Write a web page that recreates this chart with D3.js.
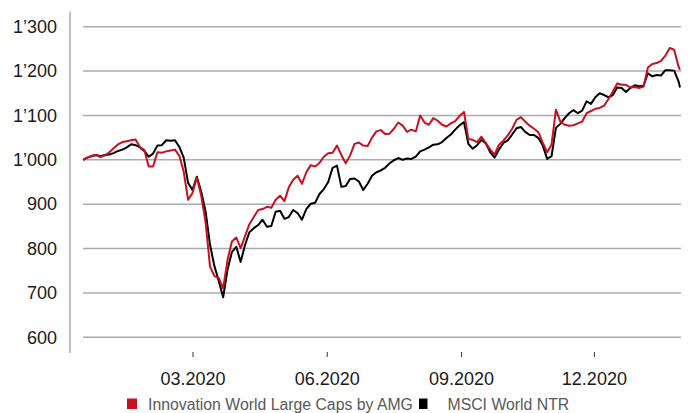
<!DOCTYPE html>
<html>
<head>
<meta charset="utf-8">
<script src="https://cdn.jsdelivr.net/npm/d3@7"></script>
<style>
  html, body { margin: 0; padding: 0; background: #fff; }
  svg { display: block; font-family: "Liberation Sans", Arial, sans-serif; }
</style>
</head>
<body>
<svg id="chart" width="688" height="413"></svg>
<script>
// Data: index levels every 3 days (start = 1000)
const dates = [
  "2019-12-17","2019-12-20","2019-12-23","2019-12-26","2019-12-29",
  "2020-01-01","2020-01-04","2020-01-07","2020-01-10","2020-01-13","2020-01-16","2020-01-19","2020-01-22","2020-01-25","2020-01-28","2020-01-31",
  "2020-02-03","2020-02-06","2020-02-09","2020-02-12","2020-02-15","2020-02-18","2020-02-21","2020-02-24","2020-02-27",
  "2020-03-01","2020-03-04","2020-03-07","2020-03-10","2020-03-13","2020-03-16","2020-03-19","2020-03-22","2020-03-25","2020-03-28","2020-03-31",
  "2020-04-03","2020-04-06","2020-04-09","2020-04-12","2020-04-15","2020-04-18","2020-04-21","2020-04-24","2020-04-27","2020-04-30",
  "2020-05-03","2020-05-06","2020-05-09","2020-05-12","2020-05-15","2020-05-18","2020-05-21","2020-05-24","2020-05-27","2020-05-30",
  "2020-06-02","2020-06-05","2020-06-08","2020-06-11","2020-06-14","2020-06-17","2020-06-20","2020-06-23","2020-06-26","2020-06-29",
  "2020-07-02","2020-07-05","2020-07-08","2020-07-11","2020-07-14","2020-07-17","2020-07-20","2020-07-23","2020-07-26","2020-07-29",
  "2020-08-01","2020-08-04","2020-08-07","2020-08-10","2020-08-13","2020-08-16","2020-08-19","2020-08-22","2020-08-25","2020-08-28","2020-08-31",
  "2020-09-03","2020-09-06","2020-09-09","2020-09-12","2020-09-15","2020-09-18","2020-09-21","2020-09-24","2020-09-27","2020-09-30",
  "2020-10-03","2020-10-06","2020-10-09","2020-10-12","2020-10-15","2020-10-18","2020-10-21","2020-10-24","2020-10-27","2020-10-30",
  "2020-11-02","2020-11-05","2020-11-08","2020-11-11","2020-11-14","2020-11-17","2020-11-20","2020-11-23","2020-11-26","2020-11-29",
  "2020-12-02","2020-12-05","2020-12-08","2020-12-11","2020-12-14","2020-12-17","2020-12-20","2020-12-23","2020-12-26","2020-12-29",
  "2021-01-01","2021-01-04","2021-01-07","2021-01-10","2021-01-13","2021-01-16","2021-01-19","2021-01-22","2021-01-25","2021-01-28","2021-01-29"
];

const innovation = [
  1000,1005,1008,1011,1006,1010,1017,1026,1035,1040,
  1042,1044,1046,1029,1022,985,985,1017,1016,1019,
  1021,1023,1009,973,910,925,960,919,859,760,
  738,734,710,774,816,825,801,828,855,871,
  887,889,894,892,910,919,907,938,955,964,
  946,972,988,985,993,1007,1015,1016,1032,1011,
  992,1010,1036,1039,1032,1031,1050,1064,1067,1058,
  1059,1070,1084,1077,1063,1068,1064,1100,1084,1079,
  1094,1088,1079,1075,1082,1087,1099,1108,1047,1045,
  1040,1052,1038,1023,1012,1034,1043,1055,1070,1090,
  1096,1086,1077,1070,1062,1038,1017,1034,1113,1086,
  1079,1077,1078,1082,1086,1105,1110,1115,1117,1122,
  1137,1154,1172,1169,1169,1163,1164,1162,1165,1208,
  1216,1218,1223,1235,1252,1248,1210,1203
];

const msciWorld = [
  1000,1005,1009,1011,1008,1011,1012,1015,1020,1023,
  1028,1035,1033,1028,1020,1007,1014,1032,1033,1044,
  1043,1044,1029,1005,948,932,962,928,883,809,
  761,727,690,752,792,804,770,808,837,846,
  853,865,849,851,883,885,867,871,887,880,
  865,889,901,903,923,934,950,982,987,939,
  941,957,958,951,932,946,964,972,976,982,
  992,999,1004,1000,1003,1002,1007,1019,1023,1028,
  1034,1035,1040,1049,1057,1068,1078,1085,1036,1025,
  1033,1045,1037,1017,1005,1023,1038,1044,1057,1071,
  1074,1063,1056,1056,1049,1032,1002,1008,1072,1081,
  1094,1105,1112,1105,1111,1132,1126,1141,1150,1146,
  1141,1146,1163,1162,1153,1162,1168,1166,1167,1195,
  1188,1191,1190,1202,1202,1201,1177,1163
];

const yTicks = [600, 700, 800, 900, 1000, 1100, 1200, 1300];
const xTicks = ["2020-03-01", "2020-06-01", "2020-09-01", "2020-12-01"];
const seriesNames = ["Innovation World Large Caps by AMG", "MSCI World NTR"];
const seriesColors = ["#c8101e", "#000000"];

const svg = d3.select("#chart");
const parse = d3.utcParse("%Y-%m-%d");
const days = dates.map(parse);

const x = d3.scaleUtc()
    .domain(d3.extent(days))
    .range([83, 680]);
const y = d3.scaleLinear()
    .domain([600, 1300])
    .range([337.3, 26.7]);

// thousands separator is a typographic apostrophe
const fmt = v => {
    const s = String(v);
    return s.length > 3 ? s.slice(0, -3) + "\u2019" + s.slice(-3) : s;
};

// gridlines
svg.append("g")
    .selectAll("line")
    .data(yTicks)
    .join("line")
        .attr("x1", 83)
        .attr("x2", 681)
        .attr("y1", d => y(d))
        .attr("y2", d => y(d))
        .attr("stroke", "#a7aab7")
        .attr("stroke-width", 1.4);

// y axis
const yAxis = svg.append("g")
    .attr("transform", "translate(70,0)")
    .call(d3.axisLeft(y).tickValues(yTicks).tickSize(0).tickPadding(13).tickFormat(fmt));
yAxis.select(".domain").remove();
yAxis.append("line")
    .attr("x1", 0).attr("x2", 0)
    .attr("y1", 11.5).attr("y2", 353)
    .attr("stroke", "#a7aab7")
    .attr("stroke-width", 1.5);
yAxis.selectAll("text")
    .attr("fill", "#1a1a1a")
    .style("font-size", "18px")
    .style("font-family", "'Liberation Sans', Arial, sans-serif");

// x axis
const xAxis = svg.append("g")
    .attr("transform", "translate(0,352)")
    .call(d3.axisBottom(x).tickValues(xTicks.map(parse)).tickSize(5).tickPadding(15).tickFormat(d3.utcFormat("%m.%Y")));
xAxis.select(".domain").remove();
xAxis.selectAll(".tick line").attr("stroke", "#333").attr("stroke-width", 1);
xAxis.selectAll("text")
    .attr("fill", "#1a1a1a")
    .style("font-size", "18px")
    .style("font-family", "'Liberation Sans', Arial, sans-serif");

// lines (MSCI below, Innovation on top)
const line = d3.line()
    .x((d, i) => x(days[i]))
    .y(d => y(d));

svg.append("path")
    .datum(msciWorld)
    .attr("fill", "none")
    .attr("stroke", seriesColors[1])
    .attr("stroke-width", 2)
    .attr("stroke-linejoin", "round")
    .attr("d", line);

svg.append("path")
    .datum(innovation)
    .attr("fill", "none")
    .attr("stroke", seriesColors[0])
    .attr("stroke-width", 2)
    .attr("stroke-linejoin", "round")
    .attr("d", line);

// legend
const legendX = [127, 419];
const legend = svg.append("g")
    .selectAll("g")
    .data(seriesNames)
    .join("g")
        .attr("transform", (d, i) => `translate(${legendX[i]},398.5)`);
legend.append("rect")
    .attr("width", (d, i) => i === 0 ? 10 : 8.5)
    .attr("height", 10.5)
    .attr("fill", (d, i) => seriesColors[i]);
legend.append("text")
    .attr("x", (d, i) => i === 0 ? 21 : 28.5)
    .attr("y", 11.5)
    .attr("fill", "#595959")
    .style("font-size", "15.8px")
    .text(d => d);
</script>
</body>
</html>
